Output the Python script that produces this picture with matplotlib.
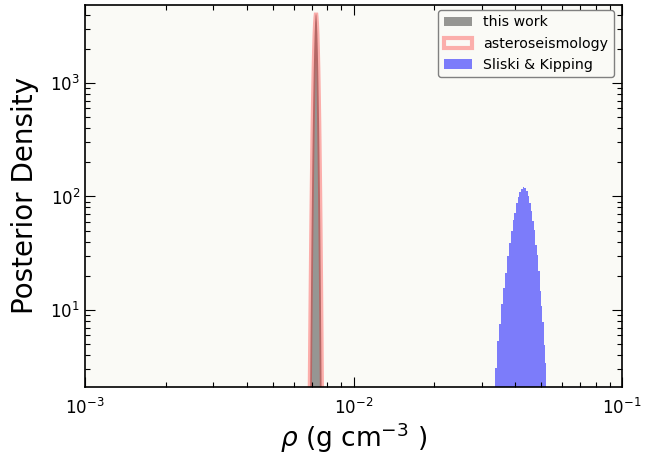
import numpy as np
import matplotlib
matplotlib.use("Agg")
import matplotlib.pyplot as plt
from matplotlib.patches import Patch

# ---- data ----
# "this work": density histogram, bins of width 0.000028 centred on 0.00725
this_center = 0.00725
this_binw = 0.000028
this_dens = [0.4, 1.4, 4.6, 13.2, 36.5, 88.0, 199, 401, 748, 1251, 1930, 2671, 3398, 3905, 4100,
             3912, 3385, 2684, 1915, 1262, 741, 406, 196, 90.1, 35.4, 13.7, 4.4, 1.3, 0.4]

# "asteroseismology": density histogram, bins of width 0.000029
astero_center = 0.00725
astero_binw = 0.000029
astero_dens = [0.6, 2.0, 6.1, 17.0, 44.6, 103, 225, 438, 792, 1290, 1948, 2655, 3340, 3810, 4150,
               3818, 3327, 2667, 1936, 1299, 786, 442, 223, 105, 44.0, 17.4, 6.0, 1.9, 0.6]

# "Sliski & Kipping": density histogram, bins of width 0.0006 centred on 0.0430
sk_center = 0.0430
sk_binw = 0.0006
sk_dens = [1.1, 2.0, 3.1, 5.3, 7.5, 11.4, 15.6, 21.3, 29.8, 38.9, 49.6, 62.5, 72.1, 86.9, 98.2,
           110.4, 116.8, 121.0, 119.2, 111.5, 100.3, 87.6, 74.0, 61.2, 50.8, 37.6, 30.4, 21.9,
           14.8, 10.9, 7.9, 4.9, 3.4, 1.9, 1.0]

labels = ["this work", "asteroseismology", "Sliski & Kipping"]
xlims = (1e-3, 1e-1)
ylims = (2.1, 4860)


def edges_for(center, binw, dens):
    n = len(dens)
    return center + binw * (np.arange(n + 1) - n / 2.0)


def centers_for(center, binw, dens):
    n = len(dens)
    return center + binw * (np.arange(n) - (n - 1) / 2.0)


fig = plt.figure(figsize=(6.52, 4.54), dpi=100)
fig.patch.set_facecolor("white")
ax = fig.add_axes([0.1304, 0.1476, 0.8236, 0.8414])
ax.set_facecolor("#fafaf6")

c1 = centers_for(this_center, this_binw, this_dens)
c2 = centers_for(astero_center, astero_binw, astero_dens)
e3 = edges_for(sk_center, sk_binw, sk_dens)

# very narrow histograms: bins are sub-pixel, so they render as a smooth spike
ax.fill_between(c1, 1e-3, this_dens, color="k", alpha=0.4, linewidth=0, label=labels[0])
ax.plot(c2, astero_dens, color="r", alpha=0.3, linewidth=3, label=labels[1],
        solid_joinstyle="miter")
ax.stairs(sk_dens, e3, fill=True, color="b", alpha=0.5, linewidth=0, label=labels[2])

ax.set_xscale("log")
ax.set_yscale("log")
ax.set_xlim(*xlims)
ax.set_ylim(*ylims)

ax.tick_params(which="both", direction="in", top=True, right=True, labelsize=12)
ax.tick_params(which="major", length=7, width=0.8)
ax.tick_params(which="minor", length=3.5, width=0.8)
ax.tick_params(axis="x", pad=8)
for s in ax.spines.values():
    s.set_linewidth(1.2)

ax.set_ylabel("Posterior Density", fontsize=20, labelpad=8)
ax.set_xlabel(r"$\rho$ (g cm$^{-3}$ )", fontsize=19, labelpad=2)

handles = [
    Patch(facecolor="k", alpha=0.4, edgecolor="none", label=labels[0]),
    Patch(facecolor="none", edgecolor=(1, 0, 0, 0.3), linewidth=3, label=labels[1]),
    Patch(facecolor="b", alpha=0.5, edgecolor="none", label=labels[2]),
]
leg = ax.legend(handles=handles, loc="upper right", fontsize=10.2, fancybox=True,
                framealpha=1.0, edgecolor="0.5", handlelength=2.0,
                bbox_to_anchor=(0.998, 1.006))
leg.get_frame().set_facecolor("#fafaf6")

fig.savefig("out.png", dpi=100)
